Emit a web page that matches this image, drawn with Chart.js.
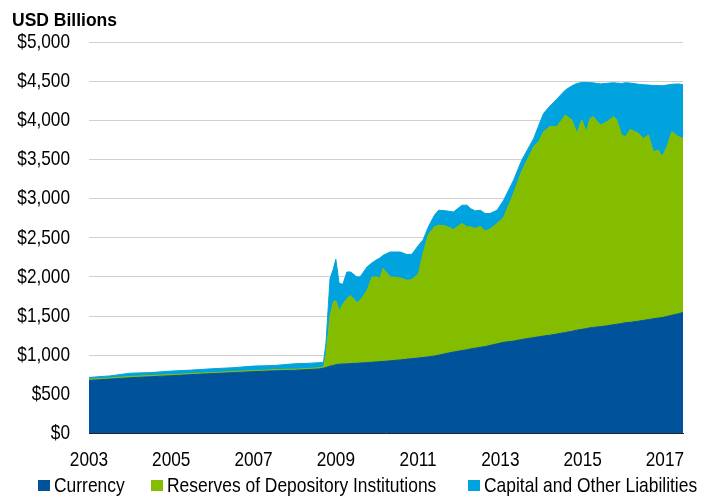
<!DOCTYPE html>
<html lang="en">
<head>
<meta charset="utf-8">
<title>Fed Liabilities</title>
<script src="https://cdn.jsdelivr.net/npm/chart.js@4.4.1/dist/chart.umd.min.js"></script>
<style>
  html, body { margin: 0; padding: 0; background: #fff; }
  .wrap { position: relative; width: 712px; height: 498px; overflow: hidden; }
  .unit-label {
    position: absolute; left: 12px; top: 11px;
    font: bold 17.5px 'Liberation Sans', Arial, sans-serif; line-height: 18px; color: #000;
  }
  .legend-item {
    position: absolute; top: 473px; height: 24px;
    display: flex; align-items: center; white-space: nowrap;
    font: 21px 'Liberation Sans', Arial, sans-serif; line-height: 24px; color: #000;
  }
  .legend-box { width: 12px; height: 11px; margin-right: 4px; flex: none; }
  .legend-text { display: inline-block; transform: scaleX(0.83); transform-origin: left center; }
</style>
</head>
<body>
<div class="wrap" id="wrap">
  <canvas id="liabilities-chart" width="712" height="498"></canvas>
  <div class="unit-label">USD Billions</div>
</div>
<script>
// ===== DATA (USD billions) =====
const dates = [
  2003.00, 2003.50, 2004.00, 2004.50, 2005.00, 2005.50, 2006.00, 2006.50, 2007.00, 2007.50,
  2008.00, 2008.30, 2008.60, 2008.70, 2008.76, 2008.86, 2008.94, 2009.00, 2009.08, 2009.17,
  2009.27, 2009.36, 2009.51, 2009.59, 2009.76, 2009.88, 2010.00, 2010.07, 2010.15, 2010.32,
  2010.57, 2010.73, 2010.85, 2011.01, 2011.12, 2011.25, 2011.40, 2011.50, 2011.66, 2011.86,
  2012.07, 2012.19, 2012.27, 2012.39, 2012.51, 2012.63, 2012.75, 2012.92, 2013.08, 2013.32,
  2013.52, 2013.81, 2013.93, 2014.05, 2014.20, 2014.37, 2014.58, 2014.74, 2014.86, 2014.98,
  2015.09, 2015.18, 2015.26, 2015.43, 2015.59, 2015.75, 2015.83, 2015.95, 2016.04, 2016.16,
  2016.36, 2016.48, 2016.60, 2016.72, 2016.84, 2016.93, 2017.05, 2017.17, 2017.33, 2017.44
];

const currency = [
  678, 695, 712, 725, 738, 752, 765, 777, 790, 800,
  808, 815, 825, 835, 842, 860, 870, 880, 885, 888,
  890, 893, 897, 900, 905, 910, 915, 918, 920, 928,
  940, 950, 955, 965, 970, 980, 990, 1000, 1020, 1040,
  1060, 1070, 1080, 1090, 1100, 1110, 1125, 1145, 1165, 1180,
  1200, 1225, 1235, 1245, 1255, 1270, 1290, 1305, 1320, 1330,
  1340, 1350, 1355, 1365, 1375, 1390, 1395, 1405, 1415, 1420,
  1435, 1445, 1455, 1465, 1475, 1480, 1495, 1510, 1530, 1545
];

const reserves = [
  15, 14, 16, 15, 14, 15, 14, 15, 14, 15,
  14, 15, 15, 15, 158, 640, 810, 820, 679, 762,
  832, 872, 774, 800, 924, 1090, 1085, 1060, 1186, 1072,
  1046, 1007, 1010, 1077, 1330, 1560, 1650, 1660, 1631, 1565,
  1622, 1568, 1560, 1527, 1547, 1477, 1485, 1537, 1595, 1885,
  2150, 2436, 2490, 2608, 2662, 2647, 2776, 2698, 2513, 2673,
  2513, 2674, 2690, 2574, 2606, 2655, 2608, 2406, 2374, 2463,
  2398, 2323, 2356, 2132, 2144, 2054, 2166, 2343, 2259, 2223
];

const capital = [
  23, 26, 42, 38, 45, 43, 48, 48, 57, 53,
  69, 65, 65, 60, 150, 480, 420, 525, 354, 255,
  341, 298, 329, 300, 298, 180, 221, 262, 170, 318,
  332, 328, 324, 362, 170, 100, 150, 192, 194, 225,
  234, 278, 233, 226, 205, 223, 200, 170, 220, 170,
  141, 107, 205, 235, 263, 353, 320, 437, 637, 481,
  631, 456, 433, 526, 491, 435, 472, 659, 691, 592,
  627, 687, 639, 848, 826, 906, 789, 607, 676, 687
];

const seriesNames = ['Currency', 'Reserves of Depository Institutions', 'Capital and Other Liabilities'];
const seriesColors = ['#00539B', '#84BC00', '#00A3DD'];
const yearTicks = [2003, 2005, 2007, 2009, 2011, 2013, 2015, 2017];
const yMax = 5000;
const yStep = 500;

// No narrow font installed, so tick text is squeezed horizontally instead
const TICK_FONT = "21px 'Liberation Sans', Arial, sans-serif";
const SQUEEZE = 0.82;

/**
 * Build a stacked area dataset from one series
 */
function areaDataset(label, values, color, fill) {
  return {
    label: label,
    data: dates.map((d, i) => ({ x: d, y: values[i] })),
    backgroundColor: color,
    borderColor: color,
    borderWidth: 1,
    fill: fill,
    pointRadius: 0,
    tension: 0
  };
}

/**
 * Draw tick labels in a condensed style, at the positions the scales give
 */
const condensedTicks = {
  id: 'condensedTicks',
  afterDraw(chart) {
    const { ctx, chartArea, scales } = chart;
    const drawText = (text, px, py, align) => {
      ctx.save();
      ctx.translate(px, py);
      ctx.scale(SQUEEZE, 1);
      ctx.textAlign = align;
      ctx.fillText(text, 0, 0);
      ctx.restore();
    };
    ctx.save();
    ctx.font = TICK_FONT;
    ctx.fillStyle = '#000';
    ctx.textBaseline = 'middle';
    scales.y.ticks.forEach(t => {
      drawText('$' + t.value.toLocaleString('en-US'), chartArea.left - 19, scales.y.getPixelForValue(t.value), 'right');
    });
    scales.x.ticks.forEach(t => {
      drawText(String(t.value), scales.x.getPixelForValue(t.value), chartArea.bottom + 27, 'center');
    });
    ctx.restore();
  }
};

const ctx = document.getElementById('liabilities-chart');
const chart = new Chart(ctx, {
  type: 'line',
  data: {
    datasets: [
      areaDataset(seriesNames[0], currency, seriesColors[0], 'origin'),
      areaDataset(seriesNames[1], reserves, seriesColors[1], '-1'),
      areaDataset(seriesNames[2], capital, seriesColors[2], '-1')
    ]
  },
  options: {
    responsive: false,
    animation: false,
    layout: { padding: { left: 12, right: 29, top: 42, bottom: 24.5 } },
    plugins: {
      legend: { display: false },
      tooltip: { enabled: false }
    },
    scales: {
      x: {
        type: 'linear',
        min: dates[0],
        max: dates[dates.length - 1],
        z: 1,
        grid: { display: false, drawTicks: false },
        border: { display: true, color: '#222', width: 1 },
        afterBuildTicks: axis => { axis.ticks = yearTicks.map(v => ({ value: v })); },
        afterFit: axis => { axis.height = 40; },
        ticks: { display: false }
      },
      y: {
        stacked: true,
        min: 0,
        max: yMax,
        grid: { color: '#D0D0D0', lineWidth: 1, drawTicks: false },
        border: { display: false },
        afterFit: axis => { axis.width = 77; },
        ticks: { display: false, stepSize: yStep }
      }
    }
  },
  plugins: [condensedTicks]
});

// ===== HTML LEGEND =====
const legendLefts = [38, 151, 468];
const wrap = document.getElementById('wrap');
chart.data.datasets.forEach((ds, i) => {
  const item = document.createElement('div');
  item.className = 'legend-item';
  item.style.left = legendLefts[i] + 'px';
  item.innerHTML = `<span class="legend-box" style="background:${ds.backgroundColor}"></span>` +
    `<span class="legend-text">${ds.label}</span>`;
  wrap.appendChild(item);
});
</script>
</body>
</html>
